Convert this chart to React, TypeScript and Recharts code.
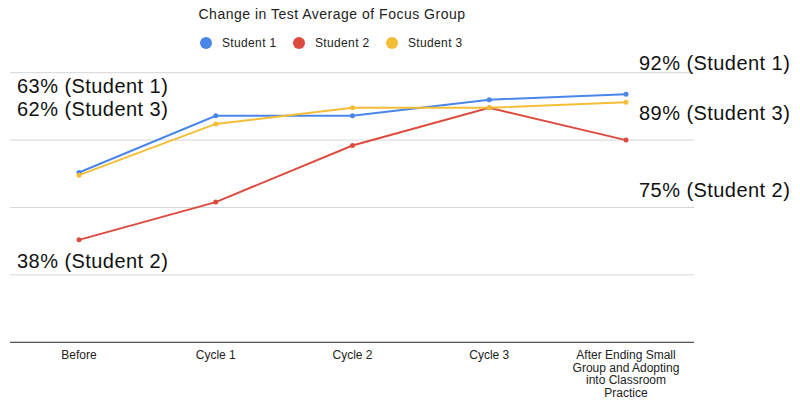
import { CartesianGrid, Line, LineChart, XAxis, YAxis } from "recharts";

const categories = [
  "Before",
  "Cycle 1",
  "Cycle 2",
  "Cycle 3",
  "After Ending Small Group and Adopting into Classroom Practice",
];
const student1 = [63, 84, 84, 90, 92];
const student2 = [38, 52, 73, 87, 75];
const student3 = [62, 81, 87, 87, 89];
const yTicks = [0, 25, 50, 75, 100];

const series = [
  { key: "s1", name: "Student 1", color: "#4A86E8", values: student1 },
  { key: "s2", name: "Student 2", color: "#DC4B3E", values: student2 },
  { key: "s3", name: "Student 3", color: "#F4BD36", values: student3 },
];

const data = categories.map((name, i) => ({
  name,
  s1: student1[i],
  s2: student2[i],
  s3: student3[i],
}));

const FONT = '"Liberation Sans", Arial, sans-serif';

// callouts: first / last value of each student, drawn as big labels
const last = categories.length - 1;
const callouts = [
  { text: `${student1[0]}% (Student 1)`, x: 17, y: 93 },
  { text: `${student3[0]}% (Student 3)`, x: 17, y: 116 },
  { text: `${student2[0]}% (Student 2)`, x: 17, y: 268 },
  { text: `${student1[last]}% (Student 1)`, x: 639, y: 70 },
  { text: `${student3[last]}% (Student 3)`, x: 639, y: 120 },
  { text: `${student2[last]}% (Student 2)`, x: 639, y: 197 },
];

const legendX = [206, 299, 392];

let ctx: CanvasRenderingContext2D | null = null;
function wrapWords(label: string, maxWidth: number): string[] {
  if (!ctx) ctx = document.createElement("canvas").getContext("2d");
  if (!ctx) return [label];
  ctx.font = `12px ${FONT}`;
  const lines: string[] = [];
  let cur = "";
  for (const w of label.split(" ")) {
    const next = cur ? cur + " " + w : w;
    if (cur && ctx.measureText(next).width > maxWidth) {
      lines.push(cur);
      cur = w;
    } else {
      cur = next;
    }
  }
  if (cur) lines.push(cur);
  return lines;
}

function CategoryTick(props: any) {
  const { x, y, payload } = props;
  const lines = wrapWords(String(payload.value), 118);
  return (
    <text x={x} y={y + 9} textAnchor="middle" fontSize={12} fill="#222" fontFamily={FONT}>
      {lines.map((l, i) => (
        <tspan key={i} x={x} dy={i === 0 ? 0 : 12.5}>
          {l}
        </tspan>
      ))}
    </text>
  );
}

export default function App() {
  return (
    <div style={{ position: "absolute", left: 0, top: 0, width: 800, height: 409, background: "#fff" }}>
      <LineChart
        width={800}
        height={409}
        data={data}
        margin={{ top: 72.7, right: 106, bottom: 36.7, left: 10 }}
      >
        <CartesianGrid vertical={false} stroke="#d6d6d6" />
        <YAxis hide domain={[0, 100]} ticks={yTicks} />
        <XAxis
          dataKey="name"
          height={30}
          padding={{ left: 69, right: 68 }}
          axisLine={{ stroke: "#333", strokeWidth: 1 }}
          tickLine={false}
          interval={0}
          tick={<CategoryTick />}
        />
        {series.map((s) => (
          <Line
            key={s.key}
            dataKey={s.key}
            name={s.name}
            stroke={s.color}
            strokeWidth={2}
            dot={{ r: 2.5, fill: s.color, stroke: s.color, strokeWidth: 0 }}
            isAnimationActive={false}
          />
        ))}
      </LineChart>
      <svg
        width={800}
        height={409}
        style={{ position: "absolute", left: 0, top: 0, pointerEvents: "none" }}
      >
        <text
          x={332}
          y={19}
          textAnchor="middle"
          fontSize={14}
          letterSpacing={0.5}
          fill="#222"
          fontFamily={FONT}
        >
          Change in Test Average of Focus Group
        </text>
        {series.map((s, i) => (
          <g key={s.key}>
            <circle cx={legendX[i]} cy={43} r={6} fill={s.color} />
            <text
              x={legendX[i] + 16}
              y={47}
              fontSize={12}
              letterSpacing={0.35}
              fill="#222"
              fontFamily={FONT}
            >
              {s.name}
            </text>
          </g>
        ))}
        {callouts.map((c) => (
          <text
            key={c.text}
            x={c.x}
            y={c.y}
            fontSize={20}
            letterSpacing={0.45}
            fill="#111"
            fontFamily={FONT}
          >
            {c.text}
          </text>
        ))}
      </svg>
    </div>
  );
}
